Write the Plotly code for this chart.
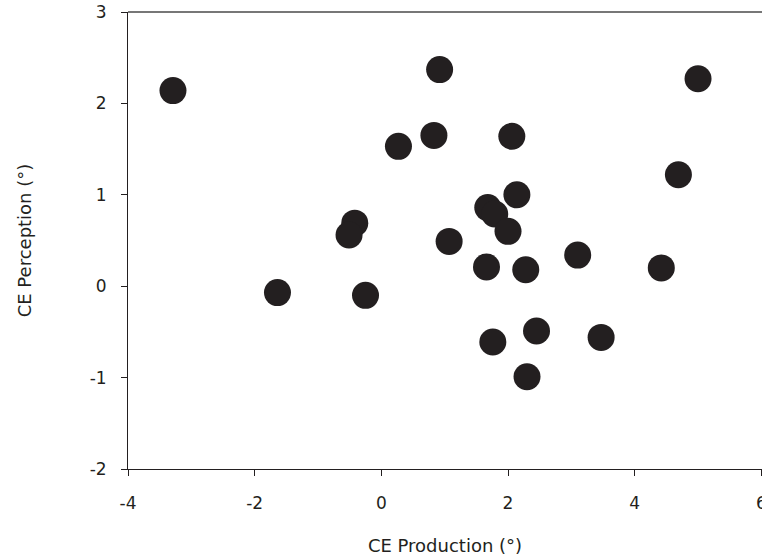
import plotly.graph_objects as go

ce_production = [-3.29, 0.92, 5.00, 0.83, 2.06, 0.27, 4.69, 2.14, -0.42, -0.51,
                 1.68, 1.79, 2.00, 1.07, 1.66, 2.28, 3.10, 4.42, -1.64, -0.25,
                 2.45, 3.47, 1.76, 2.30]
ce_perception = [2.14, 2.37, 2.27, 1.65, 1.64, 1.53, 1.22, 1.00, 0.69, 0.56,
                 0.86, 0.79, 0.60, 0.49, 0.21, 0.18, 0.34, 0.20, -0.07, -0.10,
                 -0.49, -0.56, -0.61, -0.99]

x_ticks = [-4, -2, 0, 2, 4, 6]
y_ticks = [-2, -1, 0, 1, 2, 3]

font_family = "DejaVu Sans, Verdana, sans-serif"
text_color = "#231f20"

fig = go.Figure()
fig.add_trace(go.Scatter(
    x=ce_production, y=ce_perception, mode="markers",
    marker=dict(size=27, color="#231f20", line=dict(width=0)),
    showlegend=False, cliponaxis=False,
))

fig.update_layout(
    width=762, height=560,
    margin=dict(l=128, r=0, t=12, b=91),
    plot_bgcolor="white", paper_bgcolor="white",
    font=dict(family=font_family, size=17, color=text_color),
    xaxis=dict(
        range=[-4, 6.01], tickvals=x_ticks, ticktext=[str(v) for v in x_ticks],
        showgrid=False, zeroline=False, showline=True, linecolor="#231f20", linewidth=1,
        ticks="outside", ticklen=6, tickcolor="#231f20", ticklabelstandoff=13,
        ticklabeloverflow="allow",
        automargin=False,
        title=dict(text="CE Production (°)", standoff=26, font=dict(size=18)),
    ),
    yaxis=dict(
        range=[-2, 3], tickvals=y_ticks, ticktext=[str(v) for v in y_ticks],
        showgrid=False, zeroline=False, showline=True, linecolor="#231f20", linewidth=1,
        ticks="outside", ticklen=6, tickcolor="#231f20", ticklabelstandoff=11,
        automargin=False,
        title=dict(text="CE Perception (°)", standoff=53, font=dict(size=18)),
    ),
)

fig.add_shape(type="line", xref="paper", yref="paper", x0=0, x1=1, y0=1, y1=1,
              line=dict(color="#777777", width=2))

fig.write_html(
    "out.html",
    config={"displayModeBar": False},
    post_script="document.body.style.margin='0';document.body.style.overflow='hidden';",
)
